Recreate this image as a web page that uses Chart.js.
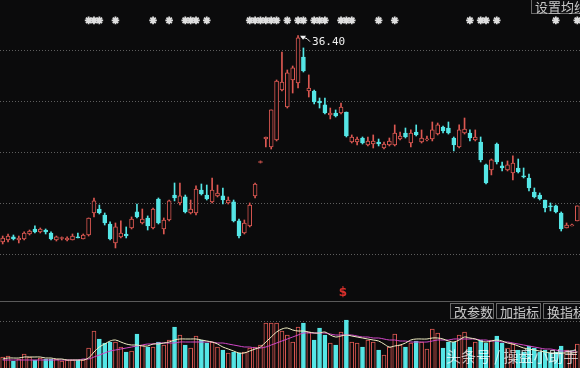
<!DOCTYPE html>
<html>
<head>
<meta charset="utf-8">
<script src="https://cdn.jsdelivr.net/npm/chart.js@4.4.1/dist/chart.umd.min.js"></script>
<style>
  html, body { margin: 0; padding: 0; background: #0b0b0c; }
  canvas { display: block; }
</style>
</head>
<body>
<canvas id="kline" width="580" height="368"></canvas>
<script>
// daily candles, oldest first
const OPEN = [16.18,16.37,16.67,16.37,16.47,16.96,17.45,17.16,17.35,17.06,
  16.37,16.52,16.37,16.37,16.67,16.47,16.86,19.02,19.41,18.82,
  17.94,16.08,16.67,16.96,17.55,19.12,18.04,18.53,17.55,20.39,
  17.45,18.33,20.78,20.00,20.59,19.02,19.02,21.27,20.78,20.10,
  20.69,20.69,20.00,20.10,18.24,17.06,17.75,20.69,23.97,26.27,
  25.49,26.18,31.08,29.41,32.06,31.76,34.31,30.98,30.98,30.00,
  29.61,28.63,28.82,28.82,28.92,25.98,25.98,26.37,25.69,25.78,
  25.98,25.39,25.69,25.69,26.27,26.86,25.88,26.96,25.98,26.18,
  26.27,26.76,27.45,27.35,26.37,25.49,26.86,26.86,26.18,25.98,
  23.73,23.24,25.78,23.63,23.24,22.94,23.43,22.65,22.45,21.08,
  20.78,20.29,19.71,19.71,19.02,17.55,17.75,18.24];
const CLOSE = [16.57,16.76,16.47,16.57,17.06,17.25,17.16,17.45,17.16,16.47,
  16.67,16.57,16.57,16.76,16.57,16.86,18.53,20.20,19.02,18.04,
  16.47,17.65,17.06,16.76,18.43,18.63,18.43,17.75,19.41,18.04,
  18.33,20.20,20.49,20.69,19.12,19.41,21.37,20.88,20.39,21.27,
  20.98,20.29,20.29,18.24,16.76,18.04,19.80,21.86,24.02,26.47,
  29.12,31.96,31.86,32.75,33.24,36.20,32.94,31.27,29.90,29.80,
  28.82,28.82,28.53,29.41,26.57,26.47,26.27,25.88,26.08,26.08,
  25.78,25.78,26.08,26.86,26.57,26.47,26.86,26.67,26.37,26.27,
  27.16,27.65,27.06,26.86,25.69,27.16,27.25,26.37,26.47,24.22,
  21.96,24.22,24.02,23.43,23.73,23.92,23.04,22.55,21.47,20.59,
  20.39,19.51,19.61,19.12,17.45,17.84,17.84,19.71];
const HIGH = [16.76,16.96,16.86,16.76,17.16,17.35,17.75,17.55,17.45,17.16,
  16.76,16.67,16.67,16.96,17.06,16.96,18.53,20.49,19.80,19.02,
  18.14,18.04,18.24,17.65,18.63,19.90,19.41,18.73,19.51,20.49,
  18.53,20.29,21.96,21.96,20.78,20.29,21.67,21.86,21.76,22.45,
  21.76,21.47,20.59,20.29,18.43,18.33,20.00,21.96,24.12,26.47,
  29.12,32.06,34.80,33.04,33.43,36.40,35.20,32.55,31.08,30.29,
  30.29,29.31,29.12,29.80,28.92,26.67,26.47,26.47,26.47,26.67,
  26.27,25.98,26.37,27.65,26.96,27.35,27.16,27.65,27.16,26.57,
  27.94,27.84,27.55,27.94,26.47,27.65,28.33,27.16,27.16,26.47,
  23.82,24.31,25.88,24.02,24.12,24.61,24.31,23.43,22.84,21.47,
  20.98,20.29,20.00,19.80,19.12,18.04,17.94,19.71];
const LOW = [15.98,16.18,16.37,16.08,16.37,16.86,17.06,17.06,16.96,16.37,
  16.27,16.37,16.27,16.37,16.57,16.47,16.76,18.63,18.92,17.84,
  16.37,15.59,16.57,16.57,17.45,18.53,17.94,17.35,17.45,17.94,
  16.96,18.24,20.20,19.80,19.02,18.92,18.82,20.78,20.29,20.00,
  20.59,19.90,19.90,18.14,16.57,16.96,17.65,20.49,23.92,25.49,
  25.29,26.08,30.98,29.31,30.78,31.27,32.84,30.39,29.71,29.31,
  28.73,28.24,28.43,28.73,26.47,25.88,25.69,25.78,25.59,25.39,
  25.59,25.29,25.59,25.59,26.18,26.37,25.49,26.57,25.88,26.08,
  26.08,26.67,26.86,26.76,25.10,25.39,26.76,26.08,26.08,24.02,
  21.86,22.75,23.82,23.14,23.14,22.25,22.94,22.45,21.18,20.49,
  20.29,19.12,19.22,19.02,17.25,17.55,17.75,18.24];
const VOLUME = [11,12,7,9,14,11,8,10,9,9,
  9,7,8,8,8,8,20,37,29,25,
  26,26,21,16,17,34,23,21,21,26,
  23,28,41,33,23,20,32,28,25,26,
  21,18,15,16,15,16,20,21,23,45,
  45,45,37,33,26,41,45,36,28,40,
  33,25,23,36,48,26,25,21,28,26,
  18,13,21,34,23,21,25,27,26,19,
  39,35,20,26,26,33,36,21,26,28,
  25,28,32,25,20,24,18,16,22,20,
  16,18,15,16,22,18,14,24];
const VOL_MA5 = [9,10,10,10,11,11,11,11,10,10,
  9,9,8,8,8,8,10,16,21,24,
  27,28,26,24,23,23,22,22,24,24,
  25,26,28,29,29,29,29,28,27,26,
  24,21,19,17,15,15,17,19,21,26,
  31,36,39,40,38,37,37,36,35,35,
  36,33,31,32,33,32,31,30,29,28,
  27,24,21,22,23,25,28,29,29,29,
  30,30,29,27,26,28,31,30,29,27,
  26,27,28,27,25,24,22,20,19,18,
  17,16,15,15,15,15,15,16];
const VOL_MA10 = [8,8,8,8,8,8,8,8,8,8,
  8,8,8,8,8,9,9,11,13,15,
  17,18,19,20,21,22,23,24,24,25,
  25,25,25,26,26,26,26,26,26,26,
  25,25,24,23,22,21,21,20,20,21,
  23,25,27,29,31,33,35,35,35,35,
  35,34,33,33,33,33,32,31,31,30,
  30,29,28,28,27,27,26,26,26,26,
  27,28,28,28,29,29,29,29,29,28,
  28,27,27,26,26,25,24,23,22,21,
  20,19,19,18,17,17,16,16];
// info markers along the top (candle index, 0-based)
const MARK_IDX = [16,17,18,21,28,31,34,35,36,38,46,47,48,49,50,51,53,55,56,58,
  59,60,63,64,65,70,73,87,89,90,92,103,107];
const GRID_PRICES = [15, 20, 25, 30, 35];
const VOL_GRID = 47;
const VOL_PANEL_TOP = 67;
const MARK_LEVEL = 37.9;
const SELL_IDX = 63;

const RED = '#dc5852';
const CYAN = '#55e6e6';
const BG = '#0b0b0c';

const labels = OPEN.map((_, i) => String(i + 1));
const up = OPEN.map((o, i) => CLOSE[i] >= o);
const candleColor = up.map(u => u ? RED : CYAN);
const candleFill = up.map(u => u ? BG : CYAN);

const decor = {
  id: 'decor',
  beforeDatasetsDraw(chart) {
    const { ctx, chartArea, scales } = chart;
    ctx.save();
    ctx.strokeStyle = 'rgba(150,150,150,0.6)';
    ctx.lineWidth = 1;
    ctx.setLineDash([1, 2]);
    GRID_PRICES.forEach(p => {
      const y = Math.round(scales.price.getPixelForValue(p)) + 0.5;
      ctx.beginPath(); ctx.moveTo(chartArea.left, y); ctx.lineTo(chartArea.right, y); ctx.stroke();
    });
    const vy = Math.round(scales.vol.getPixelForValue(VOL_GRID)) + 0.5;
    ctx.beginPath(); ctx.moveTo(chartArea.left, vy); ctx.lineTo(chartArea.right, vy); ctx.stroke();
    ctx.setLineDash([]);
    ctx.strokeStyle = '#5a5a5a';
    const sy = Math.round(scales.vol.getPixelForValue(VOL_PANEL_TOP)) + 0.5;
    ctx.beginPath(); ctx.moveTo(chartArea.left, sy); ctx.lineTo(chartArea.right, sy); ctx.stroke();
    ctx.restore();
  },
  afterDraw(chart) {
    const { ctx, scales } = chart;
    ctx.save();
    // peak label
    const hi = Math.max(...HIGH);
    const hIdx = HIGH.indexOf(hi);
    const px = scales.x.getPixelForValue(hIdx);
    const py = scales.price.getPixelForValue(hi);
    ctx.strokeStyle = '#f0f0f0';
    ctx.fillStyle = '#f0f0f0';
    ctx.lineWidth = 1;
    ctx.beginPath();
    ctx.moveTo(px + 3, py + 1);
    ctx.lineTo(px + 9, py + 3);
    ctx.lineTo(px + 12, py + 6);
    ctx.stroke();
    ctx.beginPath();
    ctx.moveTo(px + 2, py);
    ctx.lineTo(px + 8, py);
    ctx.lineTo(px + 5, py + 4);
    ctx.closePath();
    ctx.fill();
    ctx.font = '11px "DejaVu Sans Mono"';
    ctx.textBaseline = 'middle';
    ctx.fillText(hi.toFixed(2), px + 14, py + 6);

    // sell mark
    ctx.fillStyle = '#d8302c';
    ctx.font = 'bold 12px "DejaVu Sans"';
    ctx.textAlign = 'center';
    ctx.fillText('$', scales.x.getPixelForValue(SELL_IDX) + 2, 293);

    // buttons
    ctx.font = '13px "Noto Sans CJK SC"';
    ctx.textAlign = 'left';
    const btn = (x, y, w, h, t) => {
      ctx.fillStyle = '#0e0e10';
      ctx.fillRect(x, y, w, h);
      ctx.strokeStyle = '#6a6a6a';
      ctx.strokeRect(x + 0.5, y + 0.5, w - 1, h - 1);
      ctx.fillStyle = '#c8c8c8';
      ctx.fillText(t, x + 4, y + h / 2 + 1);
    };
    btn(531, -1, 60, 15, '设置均线');
    btn(450, 303, 44, 16, '改参数');
    btn(496, 303, 45, 16, '加指标');
    btn(543, 303, 45, 16, '换指标');

    // watermark
    ctx.fillStyle = 'rgba(255,255,255,0.72)';
    ctx.font = '15px "Noto Sans CJK SC"';
    ctx.fillText('头条号 / 操盘小助手', 446, 356);
    ctx.restore();
  }
};

new Chart(document.getElementById('kline'), {
  data: {
    labels,
    datasets: [
      {
        type: 'line', label: 'MA5', data: VOL_MA5, yAxisID: 'vol',
        borderColor: '#f2f0c4', borderWidth: 1, pointRadius: 0, tension: 0.35, order: 1
      },
      {
        type: 'line', label: 'MA10', data: VOL_MA10, yAxisID: 'vol',
        borderColor: '#d248c8', borderWidth: 1, pointRadius: 0, tension: 0.35, order: 2
      },
      {
        type: 'line', label: 'marks', yAxisID: 'price', showLine: false,
        data: labels.map((_, i) => MARK_IDX.includes(i) ? MARK_LEVEL : null),
        pointStyle: 'star', pointRadius: 3.8, borderColor: '#dedede', borderWidth: 1.8, order: 0
      },
      {
        type: 'bar', label: 'volume', data: VOLUME, yAxisID: 'vol', grouped: false,
        backgroundColor: candleFill, borderColor: candleColor, borderWidth: 1,
        barThickness: 4, order: 3
      },
      {
        type: 'bar', label: 'body', yAxisID: 'price', grouped: false,
        data: OPEN.map((o, i) => [o, CLOSE[i]]),
        backgroundColor: candleFill, borderColor: candleColor, borderWidth: 1,
        borderSkipped: false, barThickness: 4, minBarLength: 1, order: 4
      },
      {
        type: 'bar', label: 'wick', yAxisID: 'price', grouped: false,
        data: LOW.map((l, i) => [l, HIGH[i]]),
        backgroundColor: candleColor, barThickness: 1, borderWidth: 0, order: 5
      }
    ]
  },
  options: {
    responsive: false,
    animation: false,
    layout: { padding: 0, autoPadding: false },
    plugins: { legend: { display: false }, tooltip: { enabled: false } },
    scales: {
      x: { type: 'category', display: false, offset: true, grid: { display: false } },
      price: { type: 'linear', display: false, min: 3.82, max: 39.9 },
      vol: { type: 'linear', display: false, min: 0, max: 368 }
    }
  },
  plugins: [decor]
});
</script>
</body>
</html>
